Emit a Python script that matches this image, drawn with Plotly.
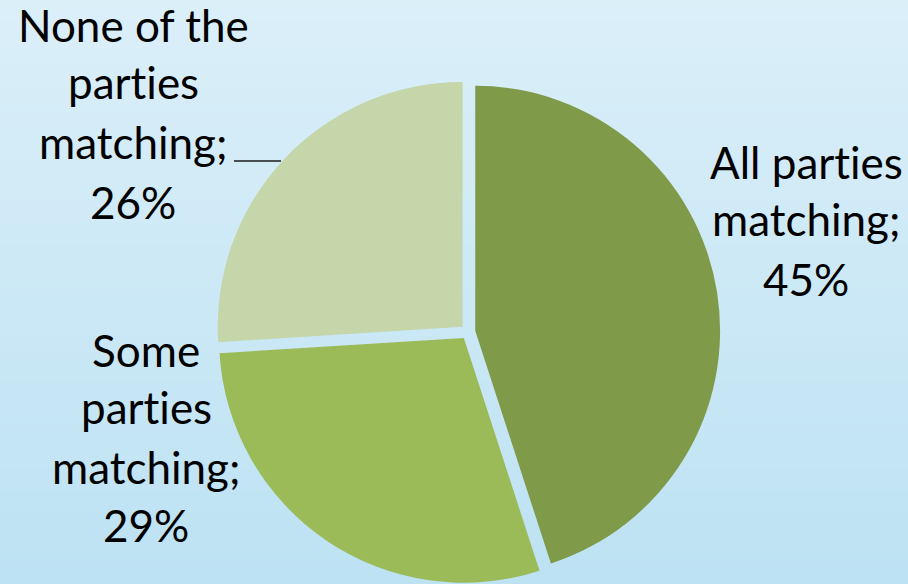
import base64
import struct
import zlib

import plotly.graph_objects as go

# ---- data ----
labels = ["All parties matching", "Some parties matching", "None of the parties matching"]
values = [45, 29, 26]
colors = ["#7F9B4A", "#9BBB59", "#C4D6AA"]
# label lines as shown on the chart
label_lines = [
    ["All parties", "matching;", "45%"],
    ["Some", "parties", "matching;", "29%"],
    ["None of the", "parties", "matching;", "26%"],
]

W, H = 908, 584


def gradient_png(top, bottom, n=128):
    def hx(c):
        c = c.lstrip("#")
        return [int(c[i:i + 2], 16) for i in (0, 2, 4)]
    t, b = hx(top), hx(bottom)
    raw = b""
    for i in range(n):
        f = i / (n - 1)
        px = bytes(int(round(t[k] + (b[k] - t[k]) * f)) for k in range(3))
        raw += b"\x00" + px
    def chunk(tag, data):
        c = struct.pack(">I", len(data)) + tag + data
        return c + struct.pack(">I", zlib.crc32(tag + data) & 0xFFFFFFFF)
    png = b"\x89PNG\r\n\x1a\n"
    png += chunk(b"IHDR", struct.pack(">IIBBBBB", 1, n, 8, 2, 0, 0, 0))
    png += chunk(b"IDAT", zlib.compress(raw))
    png += chunk(b"IEND", b"")
    return "data:image/png;base64," + base64.b64encode(png).decode()


fig = go.Figure(
    go.Pie(
        labels=labels,
        values=values,
        sort=False,
        direction="clockwise",
        rotation=0,
        pull=0.03,
        marker=dict(colors=colors, line=dict(width=0)),
        textinfo="none",
        hoverinfo="label+percent",
        domain=dict(x=[0.2154, 0.8154], y=[0.0, 0.8637]),
        showlegend=False,
    )
)

# label block placement (screen px): center x, baselines
blocks = [
    (806, [180, 237, 297]),
    (146, [368, 425, 485, 543]),
    (133, [43, 100, 160, 220]),
]
FS = 44
annotations = []
for lines, (cx, bases) in zip(label_lines, blocks):
    for txt, by in zip(lines, bases):
        annotations.append(
            dict(
                # zero-width non-joiner keeps the font from forming a "ti" ligature
                text=txt.replace("ti", "t\u200ci"),
                x=cx / W,
                y=1 - (by - 0.40 * FS) / H,
                xref="paper",
                yref="paper",
                xanchor="center",
                yanchor="middle",
                showarrow=False,
                font=dict(family="Lato", size=FS, color="#000000"),
            )
        )

fig.update_layout(
    width=W,
    height=H,
    margin=dict(l=0, r=0, t=0, b=0),
    paper_bgcolor="#CDE8F6",
    plot_bgcolor="rgba(0,0,0,0)",
    annotations=annotations,
    images=[
        dict(
            source=gradient_png("#DBEFF9", "#BDE2F3"),
            xref="paper",
            yref="paper",
            x=0,
            y=1,
            sizex=1,
            sizey=1,
            sizing="stretch",
            layer="below",
            xanchor="left",
            yanchor="top",
        )
    ],
    shapes=[
        dict(
            type="line",
            xref="paper",
            yref="paper",
            x0=234 / W,
            x1=281 / W,
            y0=1 - 161 / H,
            y1=1 - 161 / H,
            line=dict(color="#1a1a1a", width=1.5),
        )
    ],
)

post = (
    "document.body.style.margin='0';"
    "document.body.style.overflow='hidden';"
    "var s=document.createElement('style');"
    "s.textContent='text{font-variant-ligatures:none;}';"
    "document.head.appendChild(s);"
)
fig.write_html("out.html", post_script=post, config={"displayModeBar": False})
